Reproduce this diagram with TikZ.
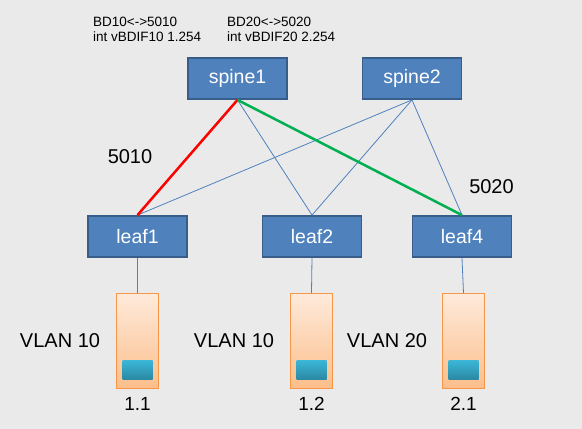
\documentclass[tikz,border=0pt]{standalone}
\usepackage{fontspec}
\setmainfont{Liberation Sans}
\usepackage{tikz}
\usetikzlibrary{positioning}

\definecolor{bgray}{HTML}{EAEAEA}
\definecolor{boxblue}{HTML}{4F81BD}
\definecolor{boxedge}{HTML}{385D8A}
\definecolor{srvtop}{HTML}{FEEADB}
\definecolor{srvbot}{HTML}{FCBE8A}
\definecolor{srvedge}{HTML}{F79646}
\definecolor{porttop}{HTML}{3CB7D8}
\definecolor{portbot}{HTML}{2A8AA4}
\definecolor{vxgreen}{HTML}{00B050}

\begin{document}
\begin{tikzpicture}[%
x=1pt, y=-1pt,
node distance=104.5pt,
on grid,
box/.style={draw=boxedge, fill=boxblue, line width=1.8pt, minimum width=99pt, minimum height=41pt, inner sep=0pt, text=white, font=\fontsize{19.5}{20}\selectfont},
srv/.style={draw=srvedge, line width=1.2pt, top color=srvtop, bottom color=srvbot, minimum width=42pt, minimum height=95pt, inner sep=0pt},
port/.style={top color=porttop, bottom color=portbot, minimum width=30pt, minimum height=19pt, inner sep=0pt},
lbl/.style={font=\fontsize{20}{20}\selectfont},
ip/.style={font=\fontsize{19}{19}\selectfont},
link/.style={boxblue, line width=0.8pt}
]
\fill[bgray] (0,0) rectangle (582,429);
\useasboundingbox (0,0) rectangle (582,429);

\node[box] (spine1) at (237.5,78.5) {spine1};
\node[box] (spine2) [right=174.5pt of spine1] {spine2};
\node[box] (leaf1) at (137.5,236.5) {leaf1};
\node[box] (leaf2) [right=174.5pt of leaf1] {leaf2};
\node[box] (leaf4) [right=150pt of leaf2] {leaf4};

\node[srv] (srv1) [below of=leaf1] {};
\node[srv] (srv2) [below of=leaf2, xshift=-0.5pt] {};
\node[srv] (srv3) [below of=leaf4, xshift=1.5pt] {};
\node[port] (port1) [below=28.5pt of srv1] {};
\node[port] (port2) [below=28.5pt of srv2] {};
\node[port] (port3) [below=28.5pt of srv3] {};

\node[lbl] (vlan1) [left=77.5pt of srv1] {VLAN 10};
\node[lbl] (vlan2) [left=77.5pt of srv2] {VLAN 10};
\node[lbl] (vlan3) [left=76.5pt of srv3] {VLAN 20};
\node[ip] (ip1) [below=63pt of srv1] {1.1};
\node[ip] (ip2) [below=63pt of srv2] {1.2};
\node[ip] (ip3) [below=63pt of srv3] {2.1};

\node[lbl] (vni1) at (130,157) {5010};
\node[lbl] (vni2) at (491.5,187) {5020};
\node[anchor=west, align=left, inner sep=0pt, font=\fontsize{13.5}{15}\selectfont] (bd10) at (93,29.5) {BD10<->5010\\int vBDIF10 1.254};
\node[anchor=west, align=left, inner sep=0pt, font=\fontsize{13.5}{15}\selectfont] (bd20) at (227,29.5) {BD20<->5020\\int vBDIF20 2.254};

% thin links
\path[-] (spine1.south) edge [link] (leaf2.north);
\path[-] (spine2.south) edge [link] (leaf1.north);
\path[-] (spine2.south) edge [link] (leaf2.north);
\path[-] (spine2.south) edge [link] (leaf4.north);
\path[-] (leaf1.south) edge [link] (srv1.north);
\path[-] (leaf2.south) edge [link] (srv2.north);
\path[-] (leaf4.south) edge [link] (srv3.north);

% vxlan tunnels
\path[-] (spine1.south) edge [red, line width=2.5pt] (leaf1.north);
\path[-] (spine1.south) edge [vxgreen, line width=2.5pt] (leaf4.north);
\end{tikzpicture}
\end{document}
